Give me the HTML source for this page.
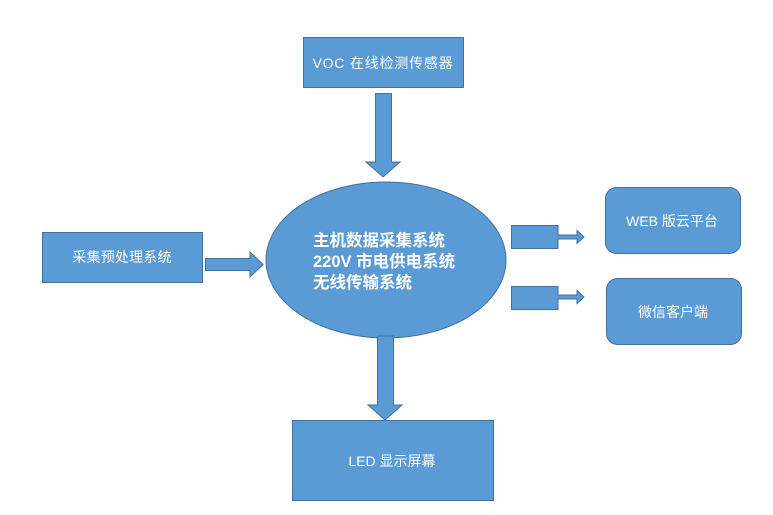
<!DOCTYPE html>
<html><head><meta charset="utf-8"><style>
html,body{margin:0;padding:0;background:#fff;}
svg{display:block;}
text{font-family:"Liberation Sans","Noto Sans CJK SC",sans-serif;fill:#fff;}
</style></head><body>
<svg width="773" height="515" viewBox="0 0 773 515" xmlns="http://www.w3.org/2000/svg">
<g fill="#5B9BD5" stroke="#41719C" stroke-width="1">
  <!-- VOC box -->
  <rect x="303.5" y="37.5" width="160" height="50"/>
  <!-- left box -->
  <rect x="42.5" y="232.5" width="160" height="50"/>
  <!-- WEB -->
  <rect x="605.5" y="187.5" width="135" height="66" rx="11" ry="11"/>
  <!-- WeChat -->
  <rect x="606.5" y="278.5" width="135" height="66" rx="11" ry="11"/>
  <!-- LED -->
  <rect x="292.5" y="420.5" width="201" height="80"/>
  <!-- ellipse -->
  <ellipse cx="386" cy="260" rx="120" ry="78"/>
  <!-- down arrow top -->
  <polygon points="375.5,93.5 391.5,93.5 391.5,162 400,162 383,177 366,162 375.5,162"/>
  <!-- right arrow left -->
  <polygon points="205.5,258.5 250,258.5 250,252 263,264.5 250,277 250,270.5 205.5,270.5"/>
  <!-- down arrow bottom -->
  <polygon points="377.5,336 393.5,336 393.5,405 402,405 385,420 368,405 377.5,405"/>
  <!-- right arrows -->
  <polygon points="511.5,225.5 558,225.5 558,235 577,235 577,230.5 584,237 577,243.5 577,239 558,239 558,248.5 511.5,248.5"/>
  <polygon points="511.5,286.5 558,286.5 558,295 577,295 577,290.5 584,297 577,303.5 577,299 558,299 558,309.5 511.5,309.5"/>
</g>
<g font-size="14">
  <text x="383" y="68" text-anchor="middle" letter-spacing="0.8">VOC 在线检测传感器</text>
  <text x="122" y="262" text-anchor="middle" letter-spacing="0.2">采集预处理系统</text>
  <text x="672" y="226" text-anchor="middle">WEB 版云平台</text>
  <text x="673" y="317" text-anchor="middle">微信客户端</text>
  <text x="392" y="466" text-anchor="middle">LED 显示屏幕</text>
</g>
<g font-size="16.5" font-weight="bold">
  <text x="313" y="246">主机数据采集系统</text>
  <text x="313" y="267">220V 市电供电系统</text>
  <text x="313" y="288">无线传输系统</text>
</g>
</svg>
</body></html>
